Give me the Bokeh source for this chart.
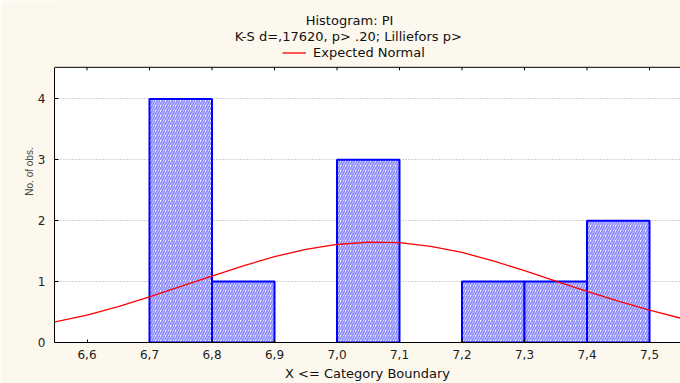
from bokeh.plotting import figure
from bokeh.models import (ColumnDataSource, Range1d, FixedTicker, LinearAxis, Label,
                          Legend, LegendItem, BoxAnnotation, Span)
from bokeh.embed import file_html
from bokeh.resources import INLINE

# ---- data ----
bin_left = [6.7, 6.8, 6.9, 7.0, 7.1, 7.2, 7.3, 7.4]
bin_right = [6.8, 6.9, 7.0, 7.1, 7.2, 7.3, 7.4, 7.5]
counts = [4, 1, 0, 3, 0, 1, 1, 2]

curve_x = [6.545, 6.60, 6.65, 6.70, 6.75, 6.80, 6.85, 6.90, 6.95, 7.00, 7.05, 7.10,
           7.15, 7.20, 7.25, 7.30, 7.35, 7.40, 7.45, 7.50, 7.55]
curve_y = [0.33, 0.45, 0.59, 0.75, 0.92, 1.09, 1.26, 1.41, 1.53, 1.61, 1.65, 1.64,
           1.58, 1.48, 1.34, 1.18, 1.01, 0.84, 0.68, 0.53, 0.40]

x_ticks = [6.6, 6.7, 6.8, 6.9, 7.0, 7.1, 7.2, 7.3, 7.4, 7.5]
x_tick_labels = ["6,6", "6,7", "6,8", "6,9", "7,0", "7,1", "7,2", "7,3", "7,4", "7,5"]
y_ticks = [0, 1, 2, 3, 4]

title_1 = "Histogram: PI"
title_2 = "K-S d=,17620, p> .20; Lilliefors p>"
legend_label = "Expected Normal"
x_label = "X <= Category Boundary"
y_label = "No. of obs."

# ---- layout constants ----
BG = "#fcf8ee"
FONT = "DejaVu Sans"
TXT = "#111111"
X0, X1 = 6.548, 7.5496      # plot-area x extent
Y_PLOT_TOP = 4.52           # top of the white plot area
PX = 61.06                  # px per y unit
Y_TOP = 343 / PX            # range extended upward to hold the title block

p = figure(width=680, height=383, output_backend="svg", toolbar_location=None,
           x_range=Range1d(X0, X1), y_range=Range1d(0, Y_TOP),
           min_border_left=54, min_border_right=0, min_border_top=0, min_border_bottom=40,
           background_fill_color=BG, border_fill_color=BG,
           x_axis_location=None, y_axis_location=None)
p.outline_line_color = None

# white plot area
p.add_layout(BoxAnnotation(bottom=0, top=Y_PLOT_TOP, fill_color="white", fill_alpha=1,
                           line_color=None, level="image"))

p.xgrid.visible = False
p.ygrid.ticker = FixedTicker(ticks=y_ticks[1:])
p.ygrid.grid_line_color = "#a8a8a8"
p.ygrid.grid_line_dash = "1 2"

bars = [(l, r, c) for l, r, c in zip(bin_left, bin_right, counts) if c > 0]
src = ColumnDataSource(dict(left=[b[0] for b in bars], right=[b[1] for b in bars],
                            top=[b[2] for b in bars], bottom=[0] * len(bars)))
p.quad(left="left", right="right", top="top", bottom="bottom", source=src,
       fill_color="white", line_color="#0000ff", line_width=2,
       hatch_pattern="/", hatch_color="#8c8cff", hatch_scale=5, hatch_weight=1.8)

curve = p.line(curve_x, curve_y, line_color="#ff0000", line_width=1.3)

# top frame line and inward ticks
p.add_layout(Span(location=Y_PLOT_TOP, dimension="width", line_color="black", line_width=1))
p.segment(x0=x_ticks, x1=x_ticks, y0=[Y_PLOT_TOP] * len(x_ticks),
          y1=[Y_PLOT_TOP - 3 / PX] * len(x_ticks), line_color="black", line_width=1)

# axes
xb = LinearAxis(ticker=FixedTicker(ticks=x_ticks), axis_label=x_label,
                major_label_overrides={t: s for t, s in zip(x_ticks, x_tick_labels)})
xb.major_tick_in = 3
xb.major_tick_out = 0
xb.minor_tick_line_color = None
xb.major_label_standoff = 7
xb.major_label_text_font = FONT
xb.major_label_text_font_size = "12px"
xb.major_label_text_color = "#222222"
xb.axis_label_text_font = FONT
xb.axis_label_text_font_size = "13px"
xb.axis_label_text_font_style = "normal"
xb.axis_label_text_color = TXT
xb.axis_label_standoff = 4
xb.axis_line_color = "black"
p.add_layout(xb, "below")

yl = LinearAxis(ticker=FixedTicker(ticks=y_ticks), axis_label=y_label, bounds=(0, Y_PLOT_TOP))
yl.major_tick_in = 4
yl.major_tick_out = 0
yl.minor_tick_line_color = None
yl.major_label_standoff = 9
yl.major_label_text_font = FONT
yl.major_label_text_font_size = "12px"
yl.major_label_text_color = "#222222"
yl.axis_label_text_font = "Liberation Sans"
yl.axis_label_text_font_size = "10px"
yl.axis_label_text_font_style = "normal"
yl.axis_label_standoff = 0
yl.axis_line_color = "black"
p.add_layout(yl, "left")

# titles
p.add_layout(Label(x=7.020, y=5.290, text=title_1, text_align="center", text_baseline="middle",
                   text_font=FONT, text_font_size="13px", text_color=TXT))
p.add_layout(Label(x=7.018, y=5.028, text=title_2, text_align="center", text_baseline="middle",
                   text_font=FONT, text_font_size="13px", text_color=TXT))

# legend
leg = Legend(items=[LegendItem(label=legend_label, renderers=[curve])], location=(228, 281),
             orientation="horizontal", padding=0, margin=0, spacing=0,
             glyph_width=24, glyph_height=17, label_height=17, label_standoff=7,
             label_text_font=FONT, label_text_font_size="13px", label_text_color=TXT,
             background_fill_alpha=0, border_line_color=None)
p.add_layout(leg, "center")

open("out.html", "w").write(file_html(p, INLINE))
